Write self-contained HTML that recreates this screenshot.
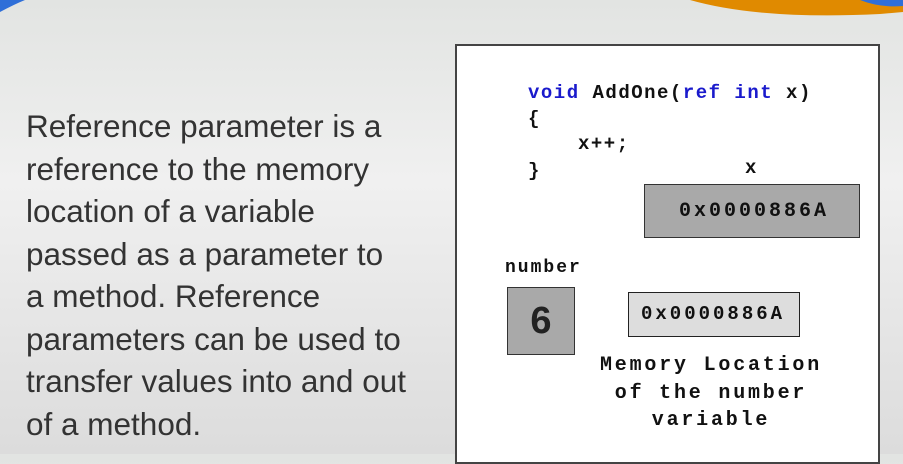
<!DOCTYPE html>
<html><head><style>
body{margin:0;width:903px;height:454px;overflow:hidden;background:linear-gradient(#e2e4e2,#f0f0f0 40%,#dcdcdc);position:relative;font-family:"Liberation Sans",sans-serif}
.m{font-family:"Liberation Mono",monospace;font-weight:bold;position:absolute;color:#111;white-space:pre}
.b{color:#1a1acc}
</style></head><body>
<svg style="position:absolute;left:0;top:0" width="903" height="20">
<path d="M0 12 Q15 4 25 0 L0 0Z" fill="#2f6fd8"/>
<path d="M690 0 Q760 20 880 14 L903 12 L903 0Z" fill="#e08a00"/>
<path d="M860 0 Q880 8 903 6 L903 0Z" fill="#2f6fd8"/>
</svg>
<div style="position:absolute;left:26px;top:105px;font-size:31.5px;line-height:42.5px;color:#333;letter-spacing:0px">Reference parameter is a<br>reference to the memory<br>location of a variable<br>passed as a parameter to<br>a method. Reference<br>parameters can be used to<br>transfer values into and out<br>of a method.</div>
<div style="position:absolute;left:455px;top:44px;width:425px;height:420px;background:#fff;border:2px solid #444;box-sizing:border-box"></div>
<div class="m" style="left:528px;top:82px;font-size:19px;letter-spacing:1.5px"><span class="b">void</span> AddOne(<span class="b">ref int</span> x)</div>
<div class="m" style="left:528px;top:108px;font-size:19px">{</div>
<div class="m" style="left:578px;top:133px;font-size:19px;letter-spacing:1.5px">x++;</div>
<div class="m" style="left:528px;top:160px;font-size:19px">}</div>
<div class="m" style="left:745px;top:157px;font-size:19px">x</div>
<div style="position:absolute;left:644px;top:184px;width:216px;height:54px;background:#a9a9a9;border:1px solid #333;box-sizing:border-box"></div>
<div class="m" style="left:679px;top:200px;font-size:20px;letter-spacing:3px">0x0000886A</div>
<div class="m" style="left:505px;top:258px;font-size:18px;letter-spacing:2px">number</div>
<div style="position:absolute;left:507px;top:287px;width:68px;height:68px;background:#a9a9a9;border:1px solid #333;box-sizing:border-box;font-size:38px;font-weight:bold;text-align:center;line-height:66px;color:#222">6</div>
<div style="position:absolute;left:628px;top:292px;width:172px;height:45px;background:#ddd;border:1.5px solid #222;box-sizing:border-box"></div>
<div class="m" style="left:641px;top:303px;font-size:19px;letter-spacing:3px">0x0000886A</div>
<div class="m" style="left:590px;top:352px;width:242px;text-align:center;font-size:20px;line-height:27.5px;letter-spacing:2.8px">Memory Location
of the number
variable</div>
</body></html>
